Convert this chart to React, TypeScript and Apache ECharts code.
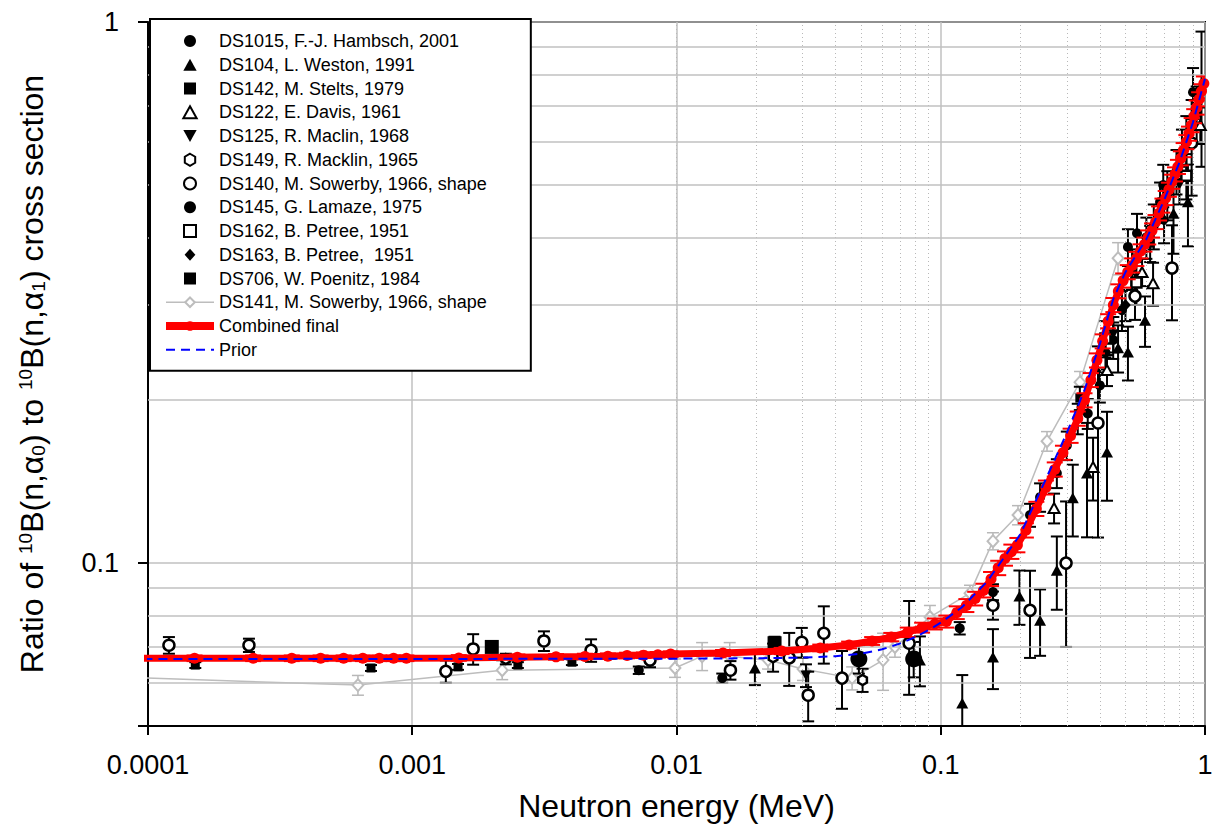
import React, { useEffect, useRef } from "react";
import * as echarts from "echarts";

type P = [number, number, number]; // [energy MeV, ratio, abs. error]

const FONT = "'Liberation Sans', Arial, Helvetica, sans-serif";

const xTickLabels = ["0.0001", "0.001", "0.01", "0.1", "1"];
const yTickLabels: [string, number][] = [["0.1", 0.1], ["1", 1]];
const yMinorGrid = [0.06, 0.07, 0.08, 0.09, 0.2, 0.3, 0.4, 0.5, 0.6, 0.7, 0.8, 0.9];
const xDecades = [1e-4, 1e-3, 1e-2, 1e-1];
const xMinorSteps = [2, 3, 4, 5, 6, 7, 8, 9];

const NAMES = [
  "DS1015, F.-J. Hambsch, 2001",
  "DS104, L. Weston, 1991",
  "DS142, M. Stelts, 1979",
  "DS122, E. Davis, 1961",
  "DS125, R. Maclin, 1968",
  "DS149, R. Macklin, 1965",
  "DS140, M. Sowerby, 1966, shape",
  "DS145, G. Lamaze, 1975",
  "DS162, B. Petree, 1951",
  "DS163, B. Petree,  1951",
  "DS706, W. Poenitz, 1984",
  "DS141, M. Sowerby, 1966, shape",
  "Combined final",
  "Prior",
];

const ds1015: P[] = [
  [7.2e-3, 0.0634, 0.001], [0.0149, 0.0613, 0.0012], [0.118, 0.0758, 0.002],
  [0.1576, 0.0884, 0.003], [0.2177, 0.1227, 0.006], [0.2376, 0.1324, 0.008],
  [0.275, 0.1466, 0.009], [0.3, 0.165, 0.01], [0.33, 0.185, 0.012],
  [0.36, 0.189, 0.012], [0.4, 0.213, 0.015], [0.42, 0.245, 0.02],
  [0.4493, 0.2584, 0.02], [0.485, 0.2935, 0.025], [0.511, 0.384, 0.03],
  [0.53, 0.35, 0.03], [0.553, 0.407, 0.035], [0.6, 0.4, 0.035],
  [0.64, 0.42, 0.04], [0.676, 0.465, 0.04], [0.695, 0.4996, 0.045],
  [0.72, 0.48, 0.05], [0.78, 0.53, 0.05], [0.818, 0.5726, 0.06],
  [0.85, 0.6, 0.07], [0.901, 0.742, 0.08], [0.93, 0.68, 0.08], [0.97, 0.75, 0.21],
];
const ds104: P[] = [
  [0.0198, 0.064, 0.0045], [0.0834, 0.0662, 0.007], [0.1206, 0.0551, 0.007],
  [0.1576, 0.067, 0.0085], [0.1985, 0.0869, 0.01], [0.2376, 0.0784, 0.011],
  [0.275, 0.097, 0.015], [0.316, 0.132, 0.02], [0.3577, 0.1466, 0.035],
  [0.4258, 0.1604, 0.03], [0.4688, 0.25, 0.025], [0.511, 0.2455, 0.028],
  [0.593, 0.281, 0.03], [0.76, 0.443, 0.07], [0.862, 0.465, 0.08],
];
const ds142: P[] = [
  [1.51e-4, 0.0648, 0.0008], [6.98e-4, 0.064, 0.0008], [1.49e-3, 0.0643, 0.0008],
  [2.51e-3, 0.0648, 0.0008], [4.02e-3, 0.0656, 0.0008], [0.336, 0.2018, 0.01],
  [0.62, 0.39, 0.03],
];
const ds122: P[] = [
  [0.2684, 0.1264, 0.008], [0.377, 0.1505, 0.02], [0.4258, 0.2274, 0.015],
  [0.578, 0.345, 0.02], [0.636, 0.329, 0.03], [0.96, 0.645, 0.05],
];
const ds125: P[] = [[0.0309, 0.062, 0.003], [0.45, 0.265, 0.02], [0.8, 0.5, 0.04]];
const ds149: P[] = [[2.26e-3, 0.0665, 0.0015], [0.0232, 0.067, 0.004], [0.0506, 0.0608, 0.003]];
const ds140: P[] = [
  [1.2e-4, 0.0705, 0.0025], [2.41e-4, 0.0705, 0.002], [1.34e-3, 0.0631, 0.003],
  [1.7e-3, 0.0694, 0.0045], [3.15e-3, 0.0718, 0.003], [4.75e-3, 0.069, 0.0033],
  [7.94e-3, 0.0662, 0.002], [0.016, 0.0634, 0.0025], [0.0267, 0.0668, 0.0075],
  [0.0298, 0.0714, 0.0045], [0.0315, 0.057, 0.006], [0.0361, 0.0742, 0.009],
  [0.0423, 0.0613, 0.0075], [0.0759, 0.0711, 0.014], [0.1576, 0.0836, 0.005],
  [0.2177, 0.0818, 0.015], [0.298, 0.1, 0.03], [0.3936, 0.1815, 0.07],
  [0.5433, 0.3115, 0.03], [0.75, 0.351, 0.07], [0.89, 0.5976, 0.12],
];
const ds145: P[] = [[0.049, 0.0665, 0.004], [0.079, 0.0665, 0.005]];
const ds162: P[] = [[0.42, 0.26, 0.02], [0.55, 0.33, 0.03], [0.85, 0.52, 0.05]];
const ds163: P[] = [[0.5, 0.3, 0.02], [0.7, 0.43, 0.04]];
const ds706: P[] = [[2.0e-3, 0.07, 0.0012], [0.0235, 0.0711, 0.002]];

const ds141: P[] = [
  [5e-5, 0.062, 0.0025], [6.23e-4, 0.0595, 0.0025], [2.19e-3, 0.0634, 0.0025],
  [9.87e-3, 0.064, 0.0025], [0.0125, 0.0673, 0.004], [0.0159, 0.0673, 0.004],
  [0.0222, 0.0662, 0.0025], [0.0301, 0.0637, 0.003], [0.0462, 0.0613, 0.003],
  [0.0605, 0.0662, 0.008], [0.0671, 0.07, 0.003], [0.091, 0.0795, 0.004],
  [0.129, 0.088, 0.003], [0.1576, 0.1098, 0.004], [0.196, 0.1227, 0.005],
  [0.2524, 0.168, 0.007], [0.3364, 0.216, 0.01], [0.4688, 0.366, 0.025],
];

const combined: P[] = [
  [5e-5, 0.0667, 0.0008], [1.5e-4, 0.0667, 0.0008], [2.5e-4, 0.0667, 0.0008],
  [3.5e-4, 0.0667, 0.0008], [4.5e-4, 0.0667, 0.0008], [5.5e-4, 0.0667, 0.0008],
  [6.5e-4, 0.0667, 0.0008], [7.5e-4, 0.0667, 0.0008], [8.5e-4, 0.0667, 0.0008],
  [9.5e-4, 0.0667, 0.0008], [1.5e-3, 0.0668, 0.0008], [2.5e-3, 0.067, 0.0008],
  [3.5e-3, 0.0671, 0.0008], [4.5e-3, 0.0672, 0.0008], [5.5e-3, 0.0673, 0.0008],
  [6.5e-3, 0.0675, 0.0008], [7.5e-3, 0.0676, 0.0008], [8.5e-3, 0.0677, 0.0008],
  [9.5e-3, 0.0679, 0.0008], [0.015, 0.0682, 0.0009], [0.025, 0.0688, 0.0009],
  [0.035, 0.0697, 0.001], [0.045, 0.0706, 0.001], [0.055, 0.0718, 0.0012],
  [0.065, 0.073, 0.0013], [0.075, 0.0745, 0.0015], [0.085, 0.076, 0.0016],
  [0.095, 0.0772, 0.0018], [0.105, 0.078, 0.002], [0.115, 0.081, 0.0022],
  [0.125, 0.0835, 0.0023], [0.135, 0.086, 0.0025], [0.145, 0.089, 0.0026],
  [0.155, 0.0935, 0.0028], [0.165, 0.098, 0.003], [0.175, 0.102, 0.0031],
  [0.185, 0.105, 0.0032], [0.195, 0.108, 0.0033], [0.21, 0.115, 0.0035],
  [0.23, 0.126, 0.0038], [0.25, 0.138, 0.0041], [0.27, 0.149, 0.0045],
  [0.29, 0.16, 0.0048], [0.31, 0.172, 0.0052], [0.33, 0.185, 0.0056],
  [0.35, 0.2, 0.006], [0.37, 0.218, 0.0065], [0.39, 0.237, 0.0071],
  [0.41, 0.257, 0.0077], [0.43, 0.28, 0.0084], [0.45, 0.3, 0.009],
  [0.47, 0.318, 0.0095], [0.49, 0.333, 0.01], [0.51, 0.345, 0.0104],
  [0.53, 0.355, 0.0107], [0.55, 0.365, 0.011], [0.57, 0.377, 0.0113],
  [0.59, 0.388, 0.0116], [0.61, 0.4, 0.012], [0.63, 0.412, 0.0124],
  [0.65, 0.427, 0.0128], [0.67, 0.443, 0.0133], [0.69, 0.458, 0.0137],
  [0.71, 0.473, 0.0142], [0.73, 0.49, 0.0147], [0.75, 0.507, 0.0152],
  [0.77, 0.523, 0.0157], [0.79, 0.54, 0.0162], [0.81, 0.56, 0.0168],
  [0.83, 0.58, 0.0174], [0.85, 0.6, 0.018], [0.87, 0.622, 0.0187],
  [0.89, 0.645, 0.0194], [0.91, 0.67, 0.0201], [0.93, 0.695, 0.0209],
  [0.95, 0.72, 0.0216], [0.97, 0.745, 0.0224], [0.99, 0.77, 0.0231],
];

const prior: [number, number][] = [
  [5e-5, 0.0665], [1e-3, 0.0665], [0.01, 0.0666], [0.02, 0.0667], [0.03, 0.0669],
  [0.04, 0.0673], [0.05, 0.068], [0.06, 0.0693], [0.07, 0.071], [0.08, 0.073],
  [0.09, 0.0752], [0.1, 0.0776], [0.12, 0.0828], [0.15, 0.0925], [0.2, 0.113],
  [0.25, 0.143], [0.3, 0.174], [0.35, 0.209], [0.4, 0.254], [0.45, 0.308],
  [0.5, 0.345], [0.6, 0.397], [0.7, 0.468], [0.8, 0.55], [0.9, 0.652], [1.0, 0.785],
];

const HEX = "path://M0,-10L8.66,-5L8.66,5L0,10L-8.66,5L-8.66,-5Z";
const TRI = "path://M0,-10L10,8L-10,8Z";
const TRI_DOWN = "path://M-10,-8L10,-8L0,10Z";
const SQ = "path://M0,0L10,0L10,10L0,10Z";
const DIA = "path://M0,-10L9,0L0,10L-9,0Z";

function errSeries(id: string, pts: P[], color: string, lw: number, cap: number, z: number) {
  return {
    type: "custom",
    id,
    name: id,
    z,
    silent: true,
    clip: true,
    data: pts.map((p) => [p[0], p[1] - p[2], p[1] + p[2]]),
    encode: { x: 0, y: [1, 2] },
    renderItem: (_params: any, api: any) => {
      const x = api.value(0);
      const lo = api.value(1);
      const hi = api.value(2);
      const a = api.coord([x, hi]);
      const b = api.coord([x, lo]);
      const style = { stroke: color, lineWidth: lw, fill: null };
      return {
        type: "group",
        children: [
          { type: "line", shape: { x1: a[0], y1: a[1], x2: b[0], y2: b[1] }, style },
          { type: "line", shape: { x1: a[0] - cap, y1: a[1], x2: a[0] + cap, y2: a[1] }, style },
          { type: "line", shape: { x1: b[0] - cap, y1: b[1], x2: b[0] + cap, y2: b[1] }, style },
        ],
      };
    },
  };
}

function scatter(name: string, pts: P[], symbol: string, size: number, itemStyle: any) {
  return {
    type: "scatter",
    name,
    z: 5,
    symbol,
    symbolSize: size,
    symbolKeepAspect: true,
    clip: true,
    itemStyle,
    data: pts.map((p) => [p[0], p[1]]),
  };
}

const filled = { color: "#000", borderWidth: 0, opacity: 1 };
const open = (bw: number) => ({ color: "#fff", borderColor: "#000", borderWidth: bw, opacity: 1 });

export default function App() {
  const ref = useRef<HTMLDivElement>(null);
  useEffect(() => {
    if (!ref.current) return;
    const chart = echarts.init(ref.current, undefined, { renderer: "svg" });

    const gridMarks: any[] = [];
    xDecades.forEach((d) =>
      xMinorSteps.forEach((k) =>
        gridMarks.push({ xAxis: d * k, lineStyle: { type: [1, 3], color: "#b8b8b8", width: 1 } })
      )
    );
    yMinorGrid.forEach((v) =>
      gridMarks.push({ yAxis: v, lineStyle: { type: "solid", color: "#c0c0c0", width: 1.5 } })
    );

    const option: any = {
      animation: false,
      backgroundColor: "#fff",
      textStyle: { fontFamily: FONT },
      grid: {
        left: 148, right: 16, top: 22, bottom: 102,
        show: true, borderColor: "#000", borderWidth: 2, backgroundColor: "transparent",
      },
      legend: {
        data: NAMES.map((n) => {
          if (n === "Combined final") return { name: n, lineStyle: { width: 8 } };
          if (n.startsWith("DS141")) return { name: n, lineStyle: { width: 1.5 } };
          if (n === "Prior")
            return {
              name: n,
              lineStyle: { width: 2 },
              itemStyle: { color: "rgba(0,0,0,0)", borderColor: "rgba(0,0,0,0)", borderWidth: 0, opacity: 0 },
            };
          return { name: n };
        }),
        orient: "vertical",
        left: 150, top: 19,
        backgroundColor: "#fff",
        borderColor: "#000",
        borderWidth: 2,
        padding: [13, 44, 12, 12],
        itemWidth: 48,
        itemHeight: 12,
        itemGap: 5.75,
        symbolKeepAspect: true,
        selectedMode: false,
        z: 20,
        textStyle: { fontFamily: FONT, fontSize: 18, color: "#000" },
      },
      xAxis: {
        type: "log", logBase: 10, min: 1e-4, max: 1,
        name: "Neutron energy (MeV)",
        nameLocation: "middle", nameGap: 64,
        nameTextStyle: { fontFamily: FONT, fontSize: 32, color: "#000" },
        axisLine: { show: true, lineStyle: { color: "#000", width: 2 } },
        axisTick: { show: true, inside: false, length: 9, lineStyle: { color: "#000", width: 2 } },
        axisLabel: {
          fontFamily: FONT, fontSize: 27, color: "#000", margin: 25,
          formatter: (v: number) => {
            const i = Math.round(Math.log10(v)) + 4;
            return Math.abs(Math.log10(v) - (i - 4)) < 1e-6 ? xTickLabels[i] ?? "" : "";
          },
        },
        splitLine: { show: true, lineStyle: { color: "#c0c0c0", width: 1.5 } },
      },
      yAxis: {
        type: "log", logBase: 10, min: 0.05, max: 1,
        name: "Ratio of {sup|10}B(n,α{sub|0}) to {sup|10}B(n,α{sub|1}) cross section",
        nameLocation: "middle", nameGap: 100,
        nameTextStyle: {
          fontFamily: FONT, fontSize: 32, color: "#000",
          rich: {
            sup: { fontFamily: FONT, fontSize: 19, color: "#000", verticalAlign: "top" },
            sub: { fontFamily: FONT, fontSize: 19, color: "#000", verticalAlign: "bottom" },
          },
        },
        axisLine: { show: true, lineStyle: { color: "#000", width: 2 } },
        axisTick: { show: true, inside: false, length: 10, lineStyle: { color: "#000", width: 2 } },
        axisLabel: {
          fontFamily: FONT, fontSize: 27, color: "#000", margin: 29,
          formatter: (v: number) => {
            for (const [l, t] of yTickLabels) if (Math.abs(v - t) / t < 1e-6) return l;
            return "";
          },
        },
        splitLine: { show: true, lineStyle: { color: "#c0c0c0", width: 1.5 } },
      },
      series: [
        {
          type: "line", name: "gridlines", data: [], z: 1, silent: true,
          markLine: {
            silent: true, symbol: ["none", "none"], animation: false,
            label: { show: false }, emphasis: { disabled: true },
            data: gridMarks,
          },
        },
        errSeries("err141", ds141, "#b8b8b8", 1.5, 6, 2),
        {
          type: "line", name: NAMES[11], z: 3, clip: true,
          data: ds141.map((p) => [p[0], p[1]]),
          lineStyle: { color: "#bdbdbd", width: 1.5 },
          symbol: DIA, symbolSize: 12, symbolKeepAspect: true, showAllSymbol: true,
          itemStyle: { color: "#fff", borderColor: "#bdbdbd", borderWidth: 2 },
        },
        errSeries("errBlack1", ds1015, "#000", 2, 6, 4),
        errSeries("errBlack2", ds104, "#000", 2, 6, 4),
        errSeries("errBlack3", ds142, "#000", 2, 6, 4),
        errSeries("errBlack4", ds122, "#000", 2, 6, 4),
        errSeries("errBlack5", ds125, "#000", 2, 6, 4),
        errSeries("errBlack6", ds149, "#000", 2, 6, 4),
        errSeries("errBlack7", ds140, "#000", 2, 6, 4),
        errSeries("errBlack8", ds145, "#000", 2, 6, 4),
        errSeries("errBlack9", ds162, "#000", 2, 6, 4),
        errSeries("errBlack10", ds163, "#000", 2, 6, 4),
        errSeries("errBlack11", ds706, "#000", 2, 6, 4),
        scatter(NAMES[0], ds1015, "circle", 10, filled),
        scatter(NAMES[1], ds104, TRI, 12, filled),
        scatter(NAMES[2], ds142, SQ, 9, filled),
        scatter(NAMES[3], ds122, TRI, 11, open(2)),
        scatter(NAMES[4], ds125, TRI_DOWN, 11, filled),
        scatter(NAMES[5], ds149, HEX, 10, open(2.5)),
        scatter(NAMES[6], ds140, "circle", 11, open(2.5)),
        scatter(NAMES[7], ds145, "circle", 17, filled),
        scatter(NAMES[8], ds162, SQ, 10, open(2.5)),
        scatter(NAMES[9], ds163, DIA, 12, filled),
        scatter(NAMES[10], ds706, SQ, 14, filled),
        errSeries("errRed", combined, "#ff0000", 2, 8, 6),
        {
          type: "line", name: NAMES[12], z: 7, clip: true,
          data: combined.map((p) => [p[0], p[1]]),
          lineStyle: { color: "#ff0000", width: 7 },
          symbol: "circle", symbolSize: 11, showAllSymbol: true,
          itemStyle: { color: "#ff0000" },
        },
        {
          type: "line", name: NAMES[13], z: 8, clip: true,
          data: prior,
          lineStyle: { color: "#0000ff", width: 2, type: [9, 6] },
          symbol: "none",
          itemStyle: { color: "#0000ff" },
        },
      ],
    };
    chart.setOption(option);
    return () => chart.dispose();
  }, []);

  return (
    <div
      ref={ref}
      style={{ position: "fixed", left: 0, top: 0, width: 1221, height: 828, background: "#fff" }}
    />
  );
}
